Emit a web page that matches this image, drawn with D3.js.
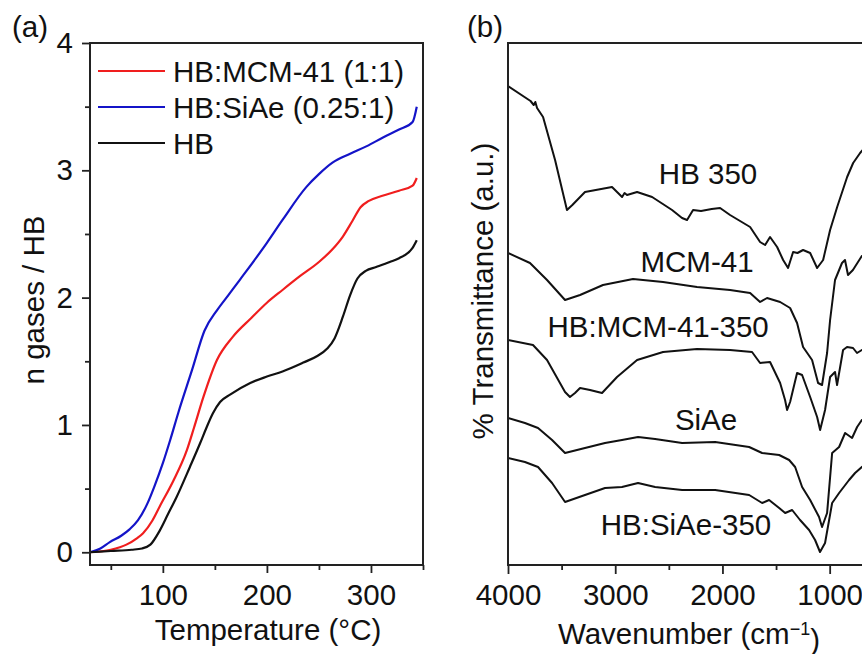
<!DOCTYPE html>
<html>
<head>
<meta charset="utf-8">
<script src="https://cdn.jsdelivr.net/npm/d3@7"></script>
<style>
  body { margin: 0; background: #fff; }
  text { font-family: "Liberation Sans", Arial, sans-serif; fill: #111; }
</style>
</head>
<body>
<div id="chart"></div>
<script>
// (a) gases released vs temperature
const tempMCM = [30, 50, 65, 75, 81, 90, 97, 110, 123, 130, 139, 152, 167, 185, 200, 215, 232, 250, 263, 273, 282, 290, 298, 311, 327, 340, 344];
const nMCM    = [0, 0.02, 0.06, 0.11, 0.15, 0.25, 0.36, 0.56, 0.8, 0.98, 1.22, 1.51, 1.69, 1.84, 1.96, 2.06, 2.17, 2.28, 2.38, 2.48, 2.6, 2.71, 2.76, 2.8, 2.84, 2.88, 2.94];
const tempSiAe = [30, 40, 49, 60, 68, 76, 85, 92, 100, 107, 115, 128, 140, 152, 163, 174, 200, 215, 238, 250, 263, 280, 296, 312, 327, 340, 344];
const nSiAe    = [0, 0.03, 0.08, 0.13, 0.18, 0.25, 0.38, 0.52, 0.7, 0.88, 1.1, 1.43, 1.74, 1.9, 2.02, 2.14, 2.43, 2.61, 2.87, 2.97, 3.06, 3.13, 3.19, 3.26, 3.32, 3.38, 3.5];
const tempHB = [30, 50, 70, 80, 88, 97, 105, 113, 126, 136, 142, 148, 155, 165, 184, 200, 215, 235, 248, 258, 265, 273, 280, 287, 295, 305, 318, 327, 340, 344];
const nHB    = [0, 0.01, 0.02, 0.03, 0.06, 0.17, 0.3, 0.43, 0.67, 0.86, 0.98, 1.09, 1.18, 1.24, 1.33, 1.38, 1.42, 1.49, 1.54, 1.6, 1.68, 1.85, 2.02, 2.15, 2.21, 2.24, 2.28, 2.31, 2.39, 2.45];

const legendNames = ["HB:MCM-41 (1:1)", "HB:SiAe (0.25:1)", "HB"];
const legendColors = ["#f01e1e", "#1414c8", "#111111"];

const tempTicks = [100, 200, 300];
const tempMinor = [50, 150, 250, 350];
const nTicks = [0, 1, 2, 3, 4];
const nMinor = [0.5, 1.5, 2.5, 3.5];

// (b) FTIR spectra, stacked, arbitrary units
const wnHB350 = [4000, 3790, 3760, 3745, 3729, 3673, 3561, 3450, 3400, 3282, 3030, 2936, 2913, 2890, 2796, 2656, 2470, 2377, 2330, 2274, 2200, 2100, 2022, 1929, 1742, 1649, 1602, 1556, 1490, 1434, 1388, 1341, 1300, 1248, 1182, 1117, 1061, 996, 930, 837, 781, 716, 600, 400];
const trHB350 = [95.8, 92.8, 92.0, 92.6, 91.4, 89.6, 81, 71, 72, 74.6, 75.6, 73.6, 74.4, 74, 74.6, 73.6, 71, 69.4, 69, 71, 70.8, 71.2, 71.4, 70, 67.6, 64.6, 64, 65.6, 63.6, 61, 59.4, 62.6, 62.4, 63, 62.4, 59.4, 61, 67, 71.6, 77.6, 80.4, 82.4, 85.4, 88];
const wnMCM = [4000, 3795, 3636, 3468, 3328, 3114, 2834, 2554, 2237, 1929, 1742, 1649, 1584, 1462, 1369, 1304, 1248, 1164, 1108, 1071, 1024, 996, 950, 885, 857, 829, 783, 700, 400];
const trMCM = [62.4, 60.4, 57, 53, 54, 56, 57.2, 56.6, 55.6, 55, 54.4, 52.6, 53.4, 52.6, 51.4, 48.4, 43.6, 41, 36.4, 36, 42.4, 49, 57, 60.4, 61, 58, 59, 61.8, 63];
const wnMCM350 = [4000, 3767, 3636, 3468, 3422, 3375, 3328, 3235, 3123, 2983, 2796, 2554, 2237, 1929, 1724, 1649, 1556, 1462, 1416, 1397, 1369, 1304, 1257, 1182, 1117, 1089, 1043, 996, 950, 931, 875, 838, 782, 745, 700, 400];
const trMCM350 = [45, 44, 41, 34.6, 33.6, 34.4, 35.4, 35, 34.4, 37.6, 41, 42.6, 43.2, 43, 42.6, 40.4, 40.6, 36.4, 33, 31, 32.6, 38.4, 38, 33.6, 29.6, 27, 31, 37.6, 38.6, 36, 43, 43.6, 43.4, 42.4, 43, 44];
const wnSiAe = [4000, 3842, 3720, 3589, 3468, 3282, 3095, 2937, 2787, 2628, 2376, 2068, 1751, 1630, 1471, 1378, 1322, 1257, 1182, 1099, 1071, 1024, 977, 912, 856, 791, 744, 700, 400];
const trSiAe = [29.4, 28.4, 27.4, 25, 22.4, 23.4, 24.4, 25, 25.6, 25.2, 24.4, 24.6, 23.6, 22.4, 22, 21, 19.6, 15.6, 13, 9.6, 7.6, 10.4, 22.4, 23.6, 26.4, 25.4, 27.6, 29, 31];
const wnSiAe350 = [4000, 3842, 3720, 3589, 3468, 3282, 3095, 2937, 2787, 2628, 2376, 2068, 1751, 1630, 1565, 1471, 1415, 1350, 1276, 1192, 1136, 1090, 1043, 977, 912, 819, 763, 700, 400];
const trSiAe350 = [21.4, 20.6, 19.6, 16.4, 12.6, 14, 15.4, 15.6, 16.4, 15.6, 15, 15, 14, 12.4, 13, 11.4, 10.4, 11, 9, 7, 5, 2.6, 4.4, 12.4, 14.4, 17, 18.4, 19.6, 22];

const specLabels = ["HB 350", "MCM-41", "HB:MCM-41-350", "SiAe", "HB:SiAe-350"];
const specLabelWn = [2134, 2237, 2600, 2153, 2340];
const specLabelTr = [76.2, 58.6, 45.6, 27, 6];

const wnTicks = [4000, 3000, 2000, 1000];
const wnMinor = [3500, 2500, 1500, 500];

const W = 862, H = 654;
const FS = "29.5px";

const svg = d3.select("#chart").append("svg")
    .attr("width", W)
    .attr("height", H);

// ---------- panel (a) ----------
const xa = d3.scaleLinear().domain([30, 350]).range([90, 423]);
const ya = d3.scaleLinear().domain([-0.1, 4]).range([565, 43]);

function styleAxis(g) {
    g.selectAll(".domain").remove();
    g.selectAll("line").attr("stroke", "#222").attr("stroke-width", 1.8);
    g.selectAll("text").style("font-size", FS).attr("fill", "#111");
}

svg.append("g")
    .attr("transform", "translate(0,565)")
    .call(d3.axisBottom(xa).tickValues(tempMinor).tickFormat("").tickSize(5).tickSizeOuter(0))
    .call(styleAxis);
svg.append("g")
    .attr("transform", "translate(0,565)")
    .call(d3.axisBottom(xa).tickValues(tempTicks).tickFormat(d3.format("d")).tickSize(8).tickPadding(11).tickSizeOuter(0))
    .call(styleAxis);

svg.append("g")
    .attr("transform", "translate(90,0)")
    .call(d3.axisLeft(ya).tickValues(nMinor).tickFormat("").tickSize(5).tickSizeOuter(0))
    .call(styleAxis);
svg.append("g")
    .attr("transform", "translate(90,0)")
    .call(d3.axisLeft(ya).tickValues(nTicks).tickFormat(d3.format("d")).tickSize(8).tickPadding(9).tickSizeOuter(0))
    .call(styleAxis);

const lineA = d3.line()
    .x(d => xa(d[0]))
    .y(d => ya(d[1]))
    .curve(d3.curveMonotoneX);

const seriesA = [
    [tempMCM, nMCM],
    [tempSiAe, nSiAe],
    [tempHB, nHB]
];
seriesA.forEach(function (s, i) {
    svg.append("path")
        .datum(s[0].map((t, j) => [t, s[1][j]]))
        .attr("fill", "none")
        .attr("stroke", legendColors[i])
        .attr("stroke-width", 2.2)
        .attr("stroke-linejoin", "round")
        .attr("d", lineA);
});

svg.append("rect")
    .attr("x", 90).attr("y", 43)
    .attr("width", 333).attr("height", 522)
    .attr("fill", "none")
    .attr("stroke", "#222")
    .attr("stroke-width", 2);

// legend
const leg = svg.append("g");
legendNames.forEach(function (name, i) {
    let yy = 71 + i * 36;
    leg.append("line")
        .attr("x1", 98).attr("x2", 165)
        .attr("y1", yy).attr("y2", yy)
        .attr("stroke", legendColors[i])
        .attr("stroke-width", 2.2);
    leg.append("text")
        .attr("x", 173).attr("y", yy)
        .attr("dy", "0.36em")
        .style("font-size", FS)
        .text(name);
});

svg.append("text")
    .attr("x", 268).attr("y", 640)
    .attr("text-anchor", "middle")
    .style("font-size", FS)
    .text("Temperature (°C)");

svg.append("text")
    .attr("transform", "translate(44,300) rotate(-90)")
    .attr("text-anchor", "middle")
    .style("font-size", FS)
    .text("n gases / HB");

svg.append("text")
    .attr("x", 12).attr("y", 37)
    .style("font-size", FS)
    .text("(a)");

// ---------- panel (b) ----------
const xb = d3.scaleLinear().domain([4000, 400]).range([508, 894]);
const yb = d3.scaleLinear().domain([0, 104.4]).range([565, 43]);

svg.append("g")
    .attr("transform", "translate(0,565)")
    .call(d3.axisBottom(xb).tickValues(wnMinor).tickFormat("").tickSize(5).tickSizeOuter(0))
    .call(styleAxis);
svg.append("g")
    .attr("transform", "translate(0,565)")
    .call(d3.axisBottom(xb).tickValues(wnTicks).tickFormat(d3.format("d")).tickSize(9).tickPadding(10).tickSizeOuter(0))
    .call(styleAxis);

const lineB = d3.line()
    .x(d => xb(d[0]))
    .y(d => yb(d[1]));

const seriesB = [
    [wnHB350, trHB350],
    [wnMCM, trMCM],
    [wnMCM350, trMCM350],
    [wnSiAe, trSiAe],
    [wnSiAe350, trSiAe350]
];
seriesB.forEach(function (s) {
    svg.append("path")
        .datum(s[0].map((w, j) => [w, s[1][j]]))
        .attr("fill", "none")
        .attr("stroke", "#111")
        .attr("stroke-width", 2)
        .attr("stroke-linejoin", "round")
        .attr("d", lineB);
});

svg.append("rect")
    .attr("x", 508).attr("y", 43)
    .attr("width", xb(400) - 508).attr("height", 522)
    .attr("fill", "none")
    .attr("stroke", "#222")
    .attr("stroke-width", 2);

specLabels.forEach(function (lab, i) {
    svg.append("text")
        .attr("x", xb(specLabelWn[i]))
        .attr("y", yb(specLabelTr[i]))
        .attr("text-anchor", "middle")
        .style("font-size", FS)
        .text(lab);
});

const wlab = svg.append("text")
    .attr("x", 689).attr("y", 644)
    .attr("text-anchor", "middle")
    .style("font-size", FS);
wlab.append("tspan").text("Wavenumber (cm");
wlab.append("tspan").attr("dy", "-0.5em").style("font-size", "18px").text("−1");
wlab.append("tspan").attr("dy", "0.5em").text(")");

svg.append("text")
    .attr("transform", "translate(493,291) rotate(-90)")
    .attr("text-anchor", "middle")
    .style("font-size", FS)
    .text("% Transmittance (a.u.)");

svg.append("text")
    .attr("x", 467).attr("y", 37)
    .style("font-size", FS)
    .text("(b)");
</script>
</body>
</html>
